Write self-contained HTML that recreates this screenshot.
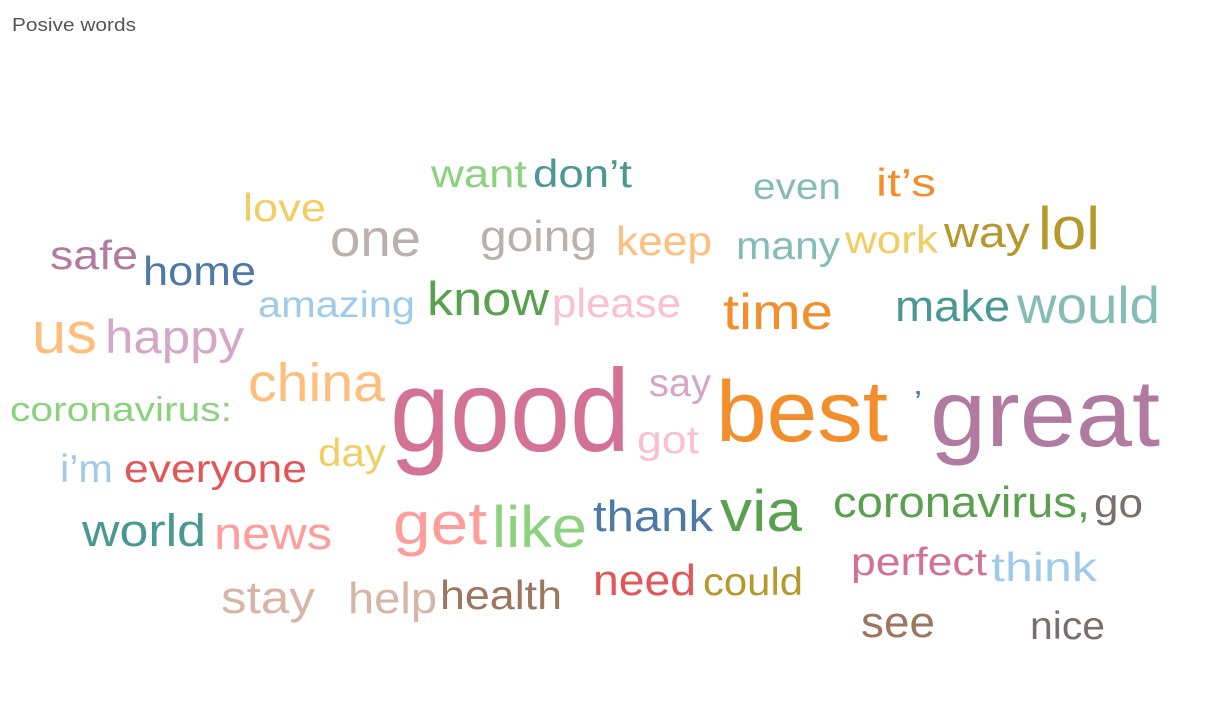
<!DOCTYPE html>
<html><head><meta charset="utf-8"><style>
html,body{margin:0;padding:0;background:#fff;}
svg{display:block;font-family:"Liberation Sans","DejaVu Sans",sans-serif;}
</style></head><body>
<svg id="cloud" width="1208" height="709" viewBox="0 0 1208 709">
<text x="12" y="31" font-size="18" fill="#555" textLength="124" lengthAdjust="spacingAndGlyphs">Posive words</text>
<g id="words"></g>
</svg>
<script>
const words = ["want","don’t","even","it’s","love","one","going","keep","many","work","way","lol","safe","home","amazing","know","please","time","make","would","us","happy","china","say","good","best","’","great","coronavirus:","got","day","i’m","everyone","thank","via","coronavirus,","go","world","news","get","like","perfect","think","need","could","stay","help","health","see","nice"];
const sizes = [36,36,34,36,36,48,40,38,36,36,40,56,38,38,34,44,38,46,40,48,54,44,50,36,108,80,28,88,32,36,36,36,36,40,54,40,38,42,42,56,54,36,38,40,36,42,40,38,40,36];
const colors = ["#8cd17d","#499894","#86bcb6","#f28e2b","#f1ce63","#bab0ac","#bab0ac","#ffbe7d","#86bcb6","#f1ce63","#b6992d","#b6992d","#b07aa1","#4e79a7","#a0cbe8","#59a14f","#fabfd2","#f28e2b","#499894","#86bcb6","#ffbe7d","#d4a6c8","#ffbe7d","#d4a6c8","#d37295","#f28e2b","#4e79a7","#b07aa1","#8cd17d","#fabfd2","#f1ce63","#a0cbe8","#e15759","#4e79a7","#59a14f","#59a14f","#79706e","#499894","#ff9d9a","#ff9d9a","#8cd17d","#d37295","#a0cbe8","#e15759","#b6992d","#d7b5a6","#d7b5a6","#9d7660","#9d7660","#79706e"];
// layout: [left, baseline, width]
const layout = [[431,187,96],[533,187,99],[753,199,88],[876,196,60],[243,221,83],[330,256,91],[480,251,117],[616,255,96],[736,259,104],[845,253,93],[944,247,86],[1038,249,62],[50,269,88],[143,285,113],[258,317,157],[427,315,122],[552,317,129],[723,329,110],[895,321,115],[1017,323,143],[32,353,65],[105,353,139],[248,401,137],[649,396,62],[390,451,240],[716,441,172],[914,412,8],[930,446,230],[10,421,222],[637,453,62],[318,466,68],[60,482,53],[124,482,183],[593,531,120],[720,531,82],[833,517,257],[1094,517,49],[82,546,124],[214,549,118],[393,544,94],[492,547,95],[851,575,136],[991,581,106],[593,595,103],[703,595,100],[221,613,94],[348,613,89],[440,609,122],[861,637,74],[1030,639,75]];
const g = document.getElementById('words');
const NS = "http://www.w3.org/2000/svg";
words.forEach((w,i)=>{
  const t = document.createElementNS(NS,'text');
  t.setAttribute('x', layout[i][0]);
  t.setAttribute('y', layout[i][1]);
  t.setAttribute('font-size', sizes[i] * 1.08);
  t.setAttribute('fill', colors[i]);
  t.setAttribute('textLength', layout[i][2]);
  t.setAttribute('lengthAdjust', 'spacingAndGlyphs');
  
  
  t.textContent = w;
  g.appendChild(t);
});
</script>
</body></html>
